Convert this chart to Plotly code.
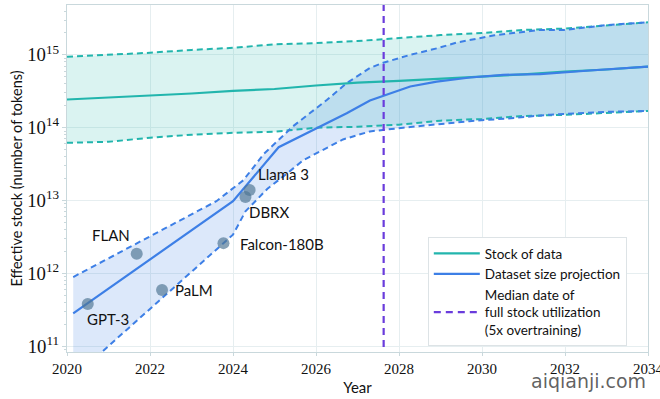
import numpy as np
import plotly.graph_objects as go

# ---------------- data ----------------
stock_years = [2020, 2021, 2022, 2023, 2024, 2025, 2026, 2027, 2028, 2029, 2030, 2031, 2032, 2033, 2034]
stock_median = [2.44e14, 2.6e14, 2.75e14, 2.95e14, 3.2e14, 3.4e14, 3.8e14, 4.15e14, 4.4e14, 4.7e14, 5.0e14, 5.4e14, 5.9e14, 6.3e14, 6.9e14]
stock_upper = [9.4e14, 1.0e15, 1.07e15, 1.17e15, 1.25e15, 1.4e15, 1.45e15, 1.55e15, 1.7e15, 1.87e15, 2.0e15, 2.2e15, 2.3e15, 2.55e15, 2.8e15]
stock_lower = [6.2e13, 6.4e13, 7.3e13, 8.0e13, 8.5e13, 8.8e13, 1.0e14, 1.03e14, 1.1e14, 1.25e14, 1.32e14, 1.45e14, 1.5e14, 1.6e14, 1.7e14]

proj_med_years = [2020.15, 2021, 2022, 2023, 2024, 2025.1, 2025.93, 2026.74, 2027.3, 2027.62, 2028.27, 2028.91, 2029.71, 2030.51, 2031.4, 2032.6, 2034]
proj_median = [2.82e11, 6.2e11, 1.55e12, 3.9e12, 9.8e12, 5.4e13, 9.3e13, 1.58e14, 2.37e14, 2.75e14, 3.68e14, 4.3e14, 4.89e14, 5.32e14, 5.43e14, 6.1e14, 6.9e14]

proj_up_years = [2020.15, 2022, 2023.6, 2024.25, 2024.75, 2025.45, 2026.26, 2026.74, 2027.3, 2027.62, 2028.27, 2028.91, 2029.4, 2030.3, 2031.4, 2032, 2033, 2034]
proj_upper = [8.9e11, 3.2e12, 9.8e12, 1.9e13, 4.4e13, 1.05e14, 2.4e14, 4.1e14, 6.6e14, 7.8e14, 1.0e15, 1.23e15, 1.48e15, 1.86e15, 2.2e15, 2.2e15, 2.57e15, 2.8e15]

proj_lo_years = [2020.15, 2021, 2022, 2023, 2023.77, 2024.0, 2024.3, 2024.83, 2025.3, 2025.7, 2026.65, 2027.3, 2028.1, 2029.7, 2030.7, 2031.64, 2033, 2034]
proj_lower = [3.7e10, 1.0e11, 3.2e11, 1.05e12, 2.6e12, 3.4e12, 7.1e12, 1.45e13, 2.35e13, 3.6e13, 6.9e13, 8.9e13, 1.0e14, 1.23e14, 1.35e14, 1.51e14, 1.65e14, 1.7e14]

median_full_use_year = 2027.63

model_names = ["GPT-3", "FLAN", "PaLM", "Falcon-180B", "DBRX", "Llama 3"]
model_years = [2020.5, 2021.68, 2022.29, 2023.77, 2024.3, 2024.4]
model_tokens = [3.8e11, 1.86e12, 5.9e11, 2.6e12, 1.12e13, 1.4e13]

x_ticks = [2020, 2022, 2024, 2026, 2028, 2030, 2032, 2034]

# ---------------- style ----------------
TEAL = "#22b5ad"
BLUE = "#3d7fe6"
PURPLE = "#6a3cdc"
SANS = "Lato"
SERIF = "Liberation Serif"

fig = go.Figure()

# bands
fig.add_trace(go.Scatter(x=stock_years, y=stock_lower, mode="lines", line=dict(width=0), showlegend=False, hoverinfo="skip"))
fig.add_trace(go.Scatter(x=stock_years, y=stock_upper, mode="lines", line=dict(width=0), fill="tonexty",
                         fillcolor="rgba(34,181,173,0.17)", showlegend=False, hoverinfo="skip"))
fig.add_trace(go.Scatter(x=proj_lo_years, y=proj_lower, mode="lines", line=dict(width=0), showlegend=False, hoverinfo="skip"))
fig.add_trace(go.Scatter(x=proj_up_years, y=proj_upper, mode="lines", line=dict(width=0), fill="tonexty",
                         fillcolor="rgba(61,127,230,0.18)", showlegend=False, hoverinfo="skip"))

# dashed bounds
dash = "6px,4px"
for xs, ys, c in [(stock_years, stock_upper, TEAL), (stock_years, stock_lower, TEAL),
                  (proj_up_years, proj_upper, BLUE), (proj_lo_years, proj_lower, BLUE)]:
    fig.add_trace(go.Scatter(x=xs, y=ys, mode="lines", line=dict(color=c, width=2, dash=dash),
                             showlegend=False, hoverinfo="skip"))

# medians
fig.add_trace(go.Scatter(x=stock_years, y=stock_median, mode="lines", line=dict(color=TEAL, width=2.2),
                         name="Stock of data"))
fig.add_trace(go.Scatter(x=proj_med_years, y=proj_median, mode="lines", line=dict(color=BLUE, width=2.2),
                         name="Dataset size projection"))

# vertical line
fig.add_trace(go.Scatter(x=[median_full_use_year, median_full_use_year], y=[1e10, 1e16], mode="lines",
                         line=dict(color=PURPLE, width=2.2, dash="7px,5px"),
                         name="Median date of<br>full stock utilization<br>(5x overtraining)"))

# model points
fig.add_trace(go.Scatter(x=model_years, y=model_tokens, mode="markers",
                         marker=dict(size=12, color="rgba(80,118,148,0.68)", line=dict(width=0)),
                         showlegend=False, hoverinfo="skip"))

label_offsets = {
    "GPT-3": (-3, -15, "left"),
    "FLAN": (-5, 19, "right"),
    "PaLM": (11, 0, "left"),
    "Falcon-180B": (15, -1, "left"),
    "DBRX": (2, -15, "left"),
    "Llama 3": (6, 16, "left"),
}
for name, yr, tok in zip(model_names, model_years, model_tokens):
    dx, dy, anc = label_offsets[name]
    fig.add_annotation(x=yr, y=np.log10(tok), xref="x", yref="y", text=name, showarrow=False,
                       xanchor=anc, yanchor="middle", xshift=dx, yshift=dy,
                       font=dict(family=SANS, size=15, color="#111"))

fig.add_annotation(x=1.0, y=-0.085, xref="paper", yref="paper", text="aiqianji.com", showarrow=False,
                   xanchor="right", yanchor="middle", font=dict(family="DejaVu Sans", size=19, color="rgba(70,70,70,0.85)"))

GRID = "#e6eef0"
FRAME = "#c9d8dc"
fig.update_xaxes(range=[2020, 2034], tickvals=x_ticks, showgrid=True, gridcolor=GRID, gridwidth=1,
                 showline=True, linecolor=FRAME, linewidth=1, mirror=True, automargin=False,
                 ticks="outside", ticklen=3, tickcolor=FRAME, ticklabeloverflow="allow",
                 tickfont=dict(family=SERIF, size=15, color="#111"),
                 title=dict(text="Year", font=dict(family=SANS, size=15, color="#111"), standoff=6),
                 zeroline=False)
fig.update_yaxes(type="log", range=[10.92, 15.685], dtick=1, exponentformat="power",
                 showgrid=True, gridcolor=GRID, gridwidth=1, automargin=False,
                 showline=True, linecolor=FRAME, linewidth=1, mirror=True,
                 ticks="outside", ticklen=4, tickcolor=FRAME,
                 minor=dict(ticks="outside", ticklen=2, tickcolor=FRAME, showgrid=False),
                 tickfont=dict(family=SERIF, size=15, color="#111"),
                 title=dict(text="Effective stock (number of tokens)", font=dict(family=SANS, size=14.5, color="#111"), standoff=1),
                 zeroline=False)

fig.update_layout(
    width=660, height=399,
    margin=dict(l=67, r=12, t=5, b=47, autoexpand=False),
    plot_bgcolor="white", paper_bgcolor="white",
    legend=dict(x=0.621, y=0.331, xanchor="left", yanchor="top", traceorder="normal",
                bgcolor="white", bordercolor="#dde3e6", borderwidth=1, itemwidth=46,
                font=dict(family=SANS, size=13.5, color="#111"), tracegroupgap=0),
    showlegend=True,
)

fig.write_html("out.html", config={"displayModeBar": False},
               post_script="document.body.style.margin='0px';document.body.style.overflow='hidden';")
